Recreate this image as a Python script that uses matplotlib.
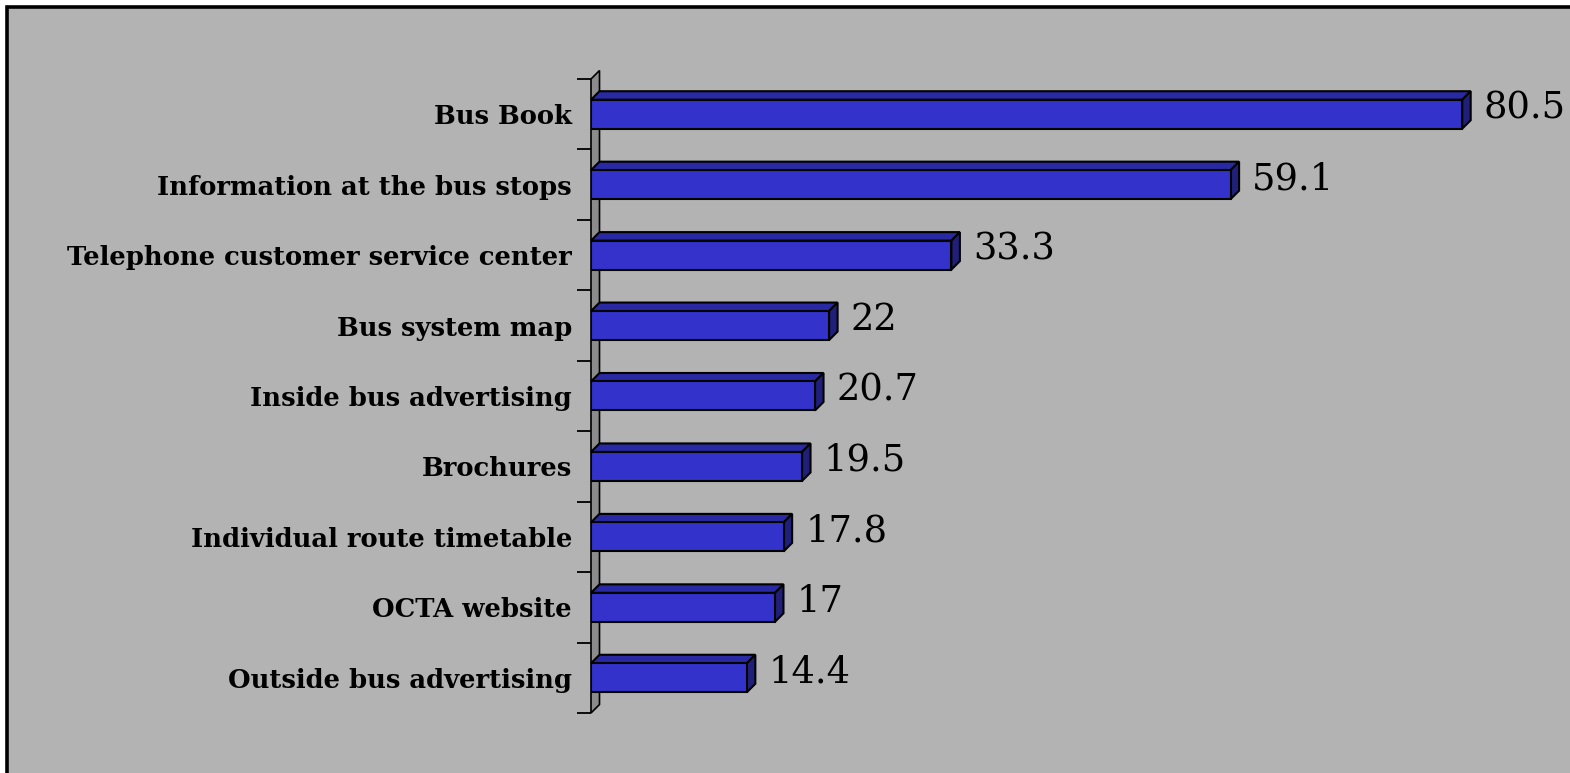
import matplotlib
matplotlib.use("Agg")
import matplotlib.pyplot as plt
from matplotlib.patches import Polygon, Rectangle
from matplotlib.ticker import FixedLocator, NullFormatter

# Survey: sources of bus information (percent of respondents)
categories = [
    "Bus Book",
    "Information at the bus stops",
    "Telephone customer service center",
    "Bus system map",
    "Inside bus advertising",
    "Brochures",
    "Individual route timetable",
    "OCTA website",
    "Outside bus advertising",
]
values = [80.5, 59.1, 33.3, 22, 20.7, 19.5, 17.8, 17, 14.4]
value_labels = ["80.5", "59.1", "33.3", "22", "20.7", "19.5", "17.8", "17", "14.4"]

W, H, DPI = 1570, 773, 100
fig = plt.figure(figsize=(W / DPI, H / DPI), dpi=DPI, facecolor="white")

# grey chart area with a black frame (left/top edges visible)
fig.patches.append(Rectangle((7 / W, -0.1), 1.2, (H - 7) / H + 0.1,
                             transform=fig.transFigure, facecolor="#b3b3b3",
                             edgecolor="black", linewidth=2.6, zorder=-10))

# axes placement in pixels
ax_left, ax_right = 591, 1565
ax_top, ax_bottom = 79, 713
ax = fig.add_axes([ax_left / W, (H - ax_bottom) / H,
                   (ax_right - ax_left) / W, (ax_bottom - ax_top) / H])
ax.set_facecolor("none")
xmax = 90
n = len(categories)
ax.set_xlim(0, xmax)
ax.set_ylim(-0.5, n - 0.5)

px_x = (ax_right - ax_left) / xmax      # pixels per value unit
px_y = (ax_bottom - ax_top) / n         # pixels per category
depth_px = 8.5
dx = depth_px / px_x
dy = depth_px / px_y

# back wall
wall = Polygon([(0, -0.5), (dx, -0.5 + dy), (dx, n - 0.5 + dy), (0, n - 0.5)],
               closed=True, facecolor="#8c8c8c", edgecolor="black",
               linewidth=1.2, clip_on=False, zorder=1)
ax.add_patch(wall)

bar_h = 29 / px_y
front_c = "#3333cc"
top_c = "#2929a3"
side_c = "#20207a"

ypos = [n - 1 - i for i in range(n)]
ax.barh(ypos, values, height=bar_h, color=front_c, edgecolor="black",
        linewidth=1.5, zorder=3)

for y, v, lab in zip(ypos, values, value_labels):
    yt = y + bar_h / 2
    yb = y - bar_h / 2
    top = Polygon([(0, yt), (v, yt), (v + dx, yt + dy), (dx, yt + dy)],
                  closed=True, facecolor=top_c, edgecolor="black",
                  linewidth=1.5, clip_on=False, zorder=2)
    side = Polygon([(v, yb), (v + dx, yb + dy), (v + dx, yt + dy), (v, yt)],
                   closed=True, facecolor=side_c, edgecolor="black",
                   linewidth=1.5, clip_on=False, zorder=2)
    ax.add_patch(top)
    ax.add_patch(side)
    ax.text(v + dx + 13 / px_x, y + 5.5 / px_y, lab, ha="left", va="center",
            fontsize=26.5, family="DejaVu Serif", color="black", zorder=4)

# category ticks between bars, labels at bar centres
ax.yaxis.set_major_locator(FixedLocator([i - 0.5 for i in range(n + 1)]))
ax.yaxis.set_major_formatter(NullFormatter())
ax.set_yticks(ypos, minor=True)
ax.set_yticklabels(categories, minor=True, fontsize=18.6,
                   family="DejaVu Serif", fontweight="bold")
ax.tick_params(axis="y", which="major", length=14 * 72 / DPI, width=1.3,
               color="black", direction="out")
ax.tick_params(axis="y", which="minor", length=0, pad=19 * 72 / DPI)
ax.set_xticks([])
for s in ax.spines.values():
    s.set_visible(False)

fig.savefig("out.png", dpi=DPI, facecolor="white")
